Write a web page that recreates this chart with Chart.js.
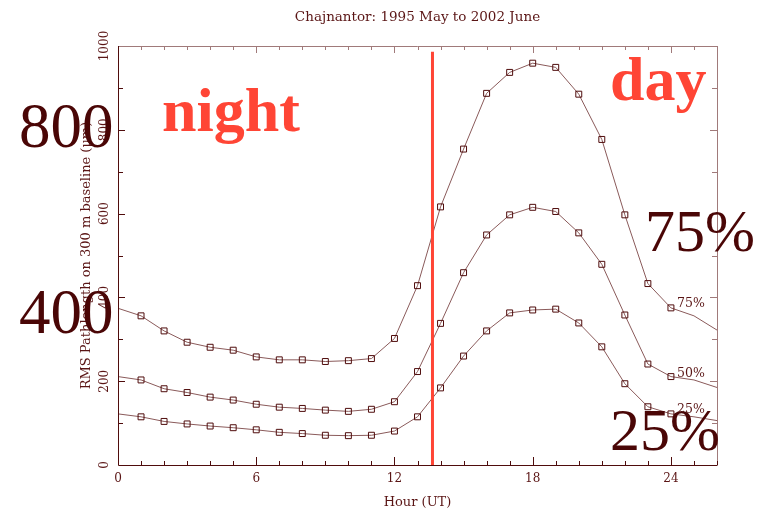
<!DOCTYPE html>
<html>
<head>
<meta charset="utf-8">
<script src="https://cdn.jsdelivr.net/npm/chart.js@4.4.1/dist/chart.umd.min.js"></script>
<style>
  html, body { margin: 0; padding: 0; background: #ffffff; }
  #wrap { width: 765px; height: 510px; position: relative; }
</style>
</head>
<body>
<div id="wrap"><canvas id="c" width="765" height="510"></canvas></div>
<script>
// ---- data ----
const titleText = 'Chajnantor: 1995 May to 2002 June';
const xTitle = 'Hour (UT)';
const yTitle = 'RMS Pathlength on 300 m baseline (\u03bcm)';
const hours = [0,1,2,3,4,5,6,7,8,9,10,11,12,13,14,15,16,17,18,19,20,21,22,23,24,25,26];
const p75 = [374,356,320,293,281,274,258,251,251,247,249,254,302,428,616,754,887,937,959,949,885,777,597,433,375,356,322];
const p50 = [211,203,182,173,162,155,145,138,135,131,128,133,151,223,338,459,549,597,615,605,554,479,358,241,211,203,185];
const p25 = [122,115,104, 98, 93, 89, 84, 78, 75, 71, 70, 71, 81,115,184,260,320,363,370,372,339,282,194,139,122,115,106];
const markedHours = [1, 24];          // first and last hour drawn with a marker
const sunriseLine = [{x:13.65, y:0}, {x:13.65, y:986}];
const xTickLabels = [0, 6, 12, 18, 24];
const yTickLabels = [0, 200, 400, 600, 800, 1000];
const curveLabels = ['75%', '50%', '25%'];
const curveLabelPos = [[677, 307], [677, 377], [677, 413]];
const bigTexts = [
  {text:'800',   x:19,  y:147, color:'#4a0606', bold:false, size:63},
  {text:'400',   x:19,  y:333, color:'#4a0606', bold:false, size:63},
  {text:'night', x:162, y:131, color:'#ff4535', bold:true,  size:62},
  {text:'day',   x:610, y:100, color:'#ff4535', bold:true,  size:62},
  {text:'75%',   x:645, y:251, color:'#4a0606', bold:false, size:60},
  {text:'25%',   x:610, y:450, color:'#4a0606', bold:false, size:60}
];

const toXY = arr => hours.map((h, i) => ({x: h, y: arr[i]}));
const radii = hours.map(h => (h >= markedHours[0] && h <= markedHours[1]) ? 4.2 : 0);

const AX_DARK = '#4f0c0c';
const AX_LIGHT = '#a07a7a';
const TXT = '#5a1515';
const LINE = '#8a5a5a';

const curveStyle = {
  showLine: true,
  borderColor: LINE,
  borderWidth: 1,
  pointStyle: 'rect',
  pointRadius: radii,
  pointBorderColor: AX_DARK,
  pointBackgroundColor: 'rgba(255,255,255,0)',
  pointBorderWidth: 1,
  tension: 0
};

const framePlugin = {
  id: 'frame',
  afterDatasetsDraw(chart) {
    const {ctx, chartArea: a, scales: {x, y}} = chart;
    ctx.save();
    ctx.lineWidth = 1;
    // top & right (lighter)
    ctx.strokeStyle = AX_LIGHT;
    ctx.beginPath();
    ctx.moveTo(a.left, a.top + 0.5); ctx.lineTo(a.right + 0.5, a.top + 0.5);
    ctx.lineTo(a.right + 0.5, a.bottom);
    ctx.stroke();
    // inward ticks on top & right
    hours.forEach(h => {
      const px = Math.round(x.getPixelForValue(h)) + 0.5;
      const len = (h % 6 === 0) ? 7 : 4;
      ctx.beginPath(); ctx.moveTo(px, a.top); ctx.lineTo(px, a.top + len); ctx.stroke();
    });
    for (let v = 100; v < 1000; v += 100) {
      const py = Math.round(y.getPixelForValue(v)) + 0.5;
      const len = (v % 200 === 0) ? 7 : 5;
      ctx.beginPath(); ctx.moveTo(a.right, py); ctx.lineTo(a.right - len, py); ctx.stroke();
    }
    // left & bottom (darker)
    ctx.strokeStyle = AX_DARK;
    ctx.beginPath();
    ctx.moveTo(a.left + 0.5, a.top); ctx.lineTo(a.left + 0.5, a.bottom + 0.5);
    ctx.lineTo(a.right + 0.5, a.bottom + 0.5);
    ctx.stroke();
    hours.forEach(h => {
      const px = Math.round(x.getPixelForValue(h)) + 0.5;
      const len = (h % 6 === 0) ? 8 : 4;
      ctx.beginPath(); ctx.moveTo(px, a.bottom); ctx.lineTo(px, a.bottom - len); ctx.stroke();
    });
    for (let v = 100; v < 1000; v += 100) {
      const py = Math.round(y.getPixelForValue(v)) + 0.5;
      const len = (v % 200 === 0) ? 7 : 5;
      ctx.beginPath(); ctx.moveTo(a.left, py); ctx.lineTo(a.left + len, py); ctx.stroke();
    }
    // small curve labels
    ctx.fillStyle = TXT;
    ctx.font = '12.5px "DejaVu Serif"';
    ctx.textBaseline = 'alphabetic';
    ctx.textAlign = 'left';
    curveLabels.forEach((t, i) => ctx.fillText(t, curveLabelPos[i][0], curveLabelPos[i][1]));
    ctx.restore();
  },
  afterDraw(chart) {
    const ctx = chart.ctx;
    ctx.save();
    ctx.textBaseline = 'alphabetic';
    ctx.textAlign = 'left';
    bigTexts.forEach(t => {
      ctx.fillStyle = t.color;
      ctx.font = (t.bold ? 'bold ' : '') + t.size + 'px "Liberation Serif"';
      ctx.fillText(t.text, t.x, t.y);
    });
    ctx.restore();
  }
};

new Chart(document.getElementById('c'), {
  type: 'scatter',
  data: {
    datasets: [
      {data: sunriseLine, showLine: true, borderColor: '#ff4535', borderWidth: 3, pointRadius: 0, pointHoverRadius: 0},
      Object.assign({label: '75%', data: toXY(p75)}, curveStyle),
      Object.assign({label: '50%', data: toXY(p50)}, curveStyle),
      Object.assign({label: '25%', data: toXY(p25)}, curveStyle)
    ]
  },
  options: {
    responsive: false,
    animation: false,
    events: [],
    layout: {padding: {left: 0, right: 48, top: 0, bottom: 0}},
    plugins: {
      legend: {display: false},
      tooltip: {enabled: false},
      title: {
        display: true,
        text: titleText,
        fullSize: false,
        color: TXT,
        font: {family: 'DejaVu Serif', size: 13.5, weight: 'normal', lineHeight: 1.2},
        padding: {top: 9, bottom: 20.8}
      }
    },
    scales: {
      x: {
        type: 'linear',
        min: 0, max: 26,
        grid: {display: false, drawTicks: false},
        border: {display: false},
        ticks: {
          stepSize: 1, autoSkip: false, maxRotation: 0, minRotation: 0,
          color: TXT, padding: 7,
          font: {family: 'DejaVu Serif', size: 12},
          callback: v => xTickLabels.includes(v) ? String(v) : ''
        },
        title: {
          display: true, text: xTitle, color: TXT,
          font: {family: 'DejaVu Serif', size: 13, lineHeight: 1.2},
          padding: {top: 0, bottom: 0}
        },
        afterFit: s => { s.height = 45; }
      },
      y: {
        type: 'linear',
        min: 0, max: 1000,
        grid: {display: false, drawTicks: false},
        border: {display: false},
        ticks: {
          stepSize: 100, autoSkip: false, minRotation: 90, maxRotation: 90,
          crossAlign: 'center',
          color: TXT, padding: -2,
          font: {family: 'DejaVu Serif', size: 12},
          callback: v => yTickLabels.includes(v) ? String(v) : ''
        },
        title: {
          display: true, text: yTitle, color: TXT,
          font: {family: 'DejaVu Serif', size: 13, lineHeight: 1.2},
          padding: {top: 79, bottom: 0}
        },
        afterFit: s => { s.width = 118; }
      }
    }
  },
  plugins: [framePlugin]
});
</script>
</body>
</html>
